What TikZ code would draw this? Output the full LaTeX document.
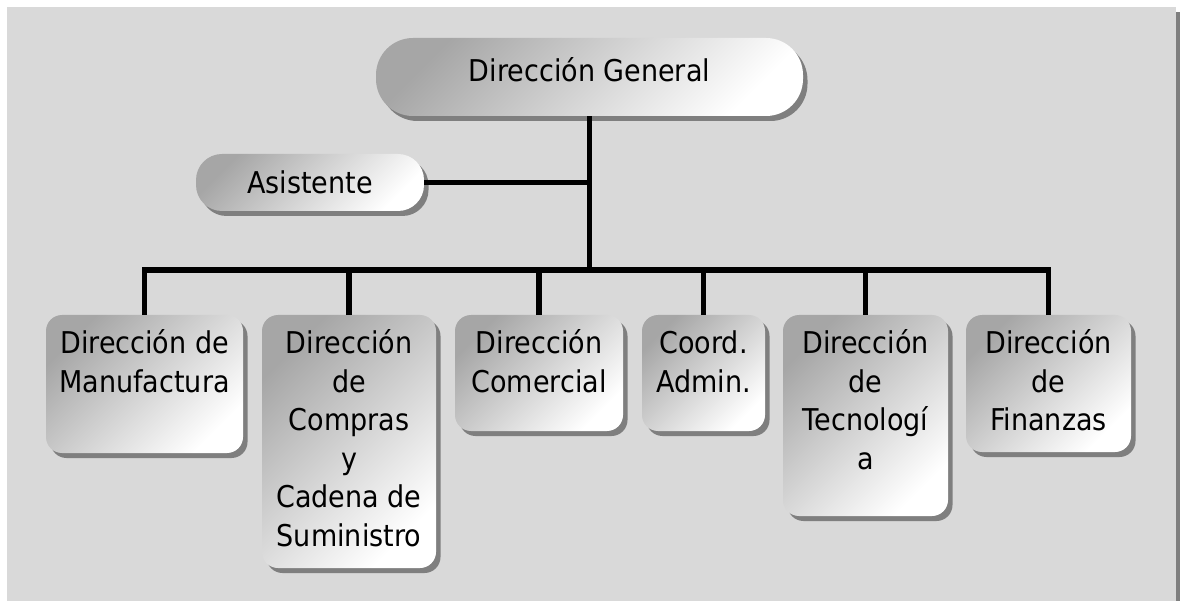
\documentclass[tikz,border=0pt]{standalone}
\usepackage{fontspec}
\newfontfamily\tah[FakeStretch=0.9]{DejaVu Sans}
\usetikzlibrary{shadows}
\definecolor{bgc}{HTML}{D9D9D9}
\definecolor{shd}{HTML}{7F7F7F}
\definecolor{grad}{HTML}{A6A6A6}
\begin{document}
\begin{tikzpicture}[x=1pt,y=-1pt,
  box/.style={draw=none, top color=grad, bottom color=white, shading angle=45,
    rounded corners=16pt, inner sep=0pt,
    general shadow={shadow xshift=4.5pt, shadow yshift=-5pt, fill=shd}},
  lbl/.style={font=\tah\fontsize{30}{38.5}\selectfont, align=center, inner sep=0pt, anchor=base},
  conn/.style={line width=5.5pt, draw=black}]
\useasboundingbox (0,0) rectangle (1180,601);
\fill[bgc] (7,7) rectangle (1176,602);
\fill[shd] (1176,12) rectangle (1180,602);

% boxes
\node[box, minimum width=427pt, minimum height=78pt, rounded corners=37pt] (gen) at (589.5,77) {};
\node[box, minimum width=228pt, minimum height=57pt, rounded corners=26pt] (asis) at (310,182.5) {};
\node[box, minimum width=197pt, minimum height=138pt] (manu) at (144.5,384) {};
\node[box, minimum width=174pt, minimum height=253pt] (comp) at (349,441.5) {};
\node[box, minimum width=168pt, minimum height=116pt] (come) at (539,373) {};
\node[box, minimum width=123pt, minimum height=116pt] (coor) at (703.5,373) {};
\node[box, minimum width=165pt, minimum height=201pt] (tecn) at (865.5,415.5) {};
\node[box, minimum width=165pt, minimum height=137pt] (fina) at (1048.5,383.5) {};

% texts (base anchor = baseline of the last line)
\node[lbl] (tgen) at ([yshift=-44pt]gen.north) {Dirección General};
\node[lbl] (tasis) at ([yshift=-40pt]asis.north) {Asistente};
\node[lbl] (tmanu) at ([yshift=-77.5pt]manu.north) {Dirección de\\Manufactura};
\node[lbl] (tcomp) at ([yshift=-231.5pt]comp.north) {Dirección\\de\\Compras\\y\\Cadena de\\Suministro};
\node[lbl] (tcome) at ([yshift=-77.5pt]come.north) {Dirección\\Comercial};
\node[lbl] (tcoor) at ([yshift=-77.5pt]coor.north) {Coord.\\Admin.};
\node[lbl] (ttecn) at ([yshift=-154.5pt]tecn.north) {Dirección\\de\\Tecnologí\\a};
\node[lbl] (tfina) at ([yshift=-116pt]fina.north) {Dirección\\de\\Finanzas};

% connectors
\coordinate (bus) at (590,270);
\draw[conn] (gen.south) -- (gen.south |- bus);
\draw[conn] (asis.east) -- (asis.east -| gen.south);
\draw[conn] (manu.north) |- (bus) -| (fina.north);
\draw[conn] (comp.north) -- (comp.north |- bus);
\draw[conn] (come.north) -- (come.north |- bus);
\draw[conn] (coor.north) -- (coor.north |- bus);
\draw[conn] (tecn.north) -- (tecn.north |- bus);
\end{tikzpicture}
\end{document}
